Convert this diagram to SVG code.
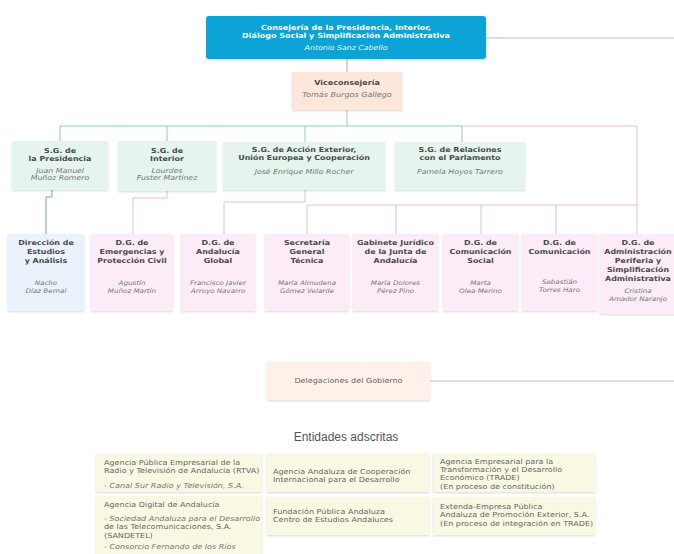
<svg xmlns="http://www.w3.org/2000/svg" width="674" height="554" viewBox="0 0 674 554">
<defs>
<filter id="sh" x="-10%" y="-10%" width="120%" height="130%"><feDropShadow dx="0" dy="1" stdDeviation="1" flood-color="#000" flood-opacity="0.15"/></filter>
<style>
text{font-family:"DejaVu Sans","Liberation Sans",sans-serif;transform-box:fill-box;transform-origin:center;transform:scaleX(1.15);}
.t{font-size:6.9px;font-weight:bold;fill:#4a4a4a;text-anchor:middle;}
.n{font-size:6.2px;font-style:italic;fill:#777;text-anchor:middle;}
.sgn{font-size:6.8px;}
.tw{font-size:7px;font-weight:bold;fill:#fff;text-anchor:middle;}
.nw{font-size:6.8px;font-style:italic;fill:#e6f6fc;text-anchor:middle;}
.e{font-size:7px;fill:#666;transform-origin:left center;}
.ei{font-size:7px;fill:#777;font-style:italic;transform-origin:left center;}
.sg{fill:#e5f5ee;filter:url(#sh);}
.pk{fill:#fcecf8;filter:url(#sh);}
.bl{fill:#eaf3fb;filter:url(#sh);}
.ent{fill:#f8f8e3;filter:url(#sh);}
.c{fill:none;stroke-width:1;}
.teal{stroke:#8fcac4;}
.pink{stroke:#e6bcdc;}
.blue{stroke:#6ea7c6;}
.gray{stroke:#bdbdbd;}
</style>
</defs>
<rect width="674" height="554" fill="#ffffff"/>
<g id="connectors">
<path class="c gray" d="M486,38 H674"/>
<path class="c" stroke="#b8a898" d="M347,59 V72"/>
<path class="c teal" d="M347,110 V126"/>
<path class="c teal" d="M60,141 V126 H462 V142"/>
<path class="c teal" d="M167,126 V141"/>
<path class="c teal" d="M305,126 V142"/>
<path class="c pink" d="M462,126 H637 V234"/>
<path class="c blue" d="M52,190 V197 H46 V234"/>
<path class="c pink" d="M167,191 V198 H133 V234"/>
<path class="c pink" d="M305,190 V202 H224 V234"/>
<path class="c pink" d="M307,234 V205 H637"/>
<path class="c pink" d="M396,205 V234"/>
<path class="c pink" d="M481,205 V234"/>
<path class="c pink" d="M556,205 V234"/>
<path class="c gray" d="M430,381 H674"/>
</g>
<g id="consejeria">
<rect x="206" y="16" width="280" height="43" rx="3" fill="#11a3d6" filter="url(#sh)"/>
<text class="tw" x="346" y="30">Consejería de la Presidencia, Interior,</text>
<text class="tw" x="346" y="38">Diálogo Social y Simplificación Administrativa</text>
<text class="nw" x="346" y="50">Antonio Sanz Cabello</text>
</g>
<g id="viceconsejeria">
<rect x="292" y="72" width="110" height="38" fill="#fde6da" filter="url(#sh)"/>
<text class="t" x="347" y="85" style="font-size:7px">Viceconsejería</text>
<text class="n" x="347" y="97" style="font-size:7px">Tomás Burgos Gallego</text>
</g>
<g id="sg-presidencia">
<rect class="sg" x="12" y="141" width="96" height="49"/>
<text class="t" x="60" y="153">S.G. de</text>
<text class="t" x="60" y="161">la Presidencia</text>
<text class="n sgn" x="60" y="173">Juan Manuel</text>
<text class="n sgn" x="60" y="180.5">Muñoz Romero</text>
</g>
<g id="sg-interior">
<rect class="sg" x="118" y="141" width="98" height="50"/>
<text class="t" x="167" y="153">S.G. de</text>
<text class="t" x="167" y="161">Interior</text>
<text class="n sgn" x="167" y="173">Lourdes</text>
<text class="n sgn" x="167" y="180.5">Fuster Martínez</text>
</g>
<g id="sg-accion-exterior">
<rect class="sg" x="223" y="142" width="162" height="48"/>
<text class="t" x="304" y="152.5">S.G. de Acción Exterior,</text>
<text class="t" x="304" y="160.5">Unión Europea y Cooperación</text>
<text class="n sgn" x="304" y="174">José Enrique Millo Rocher</text>
</g>
<g id="sg-relaciones">
<rect class="sg" x="395" y="142" width="130" height="48"/>
<text class="t" x="460" y="152.5">S.G. de Relaciones</text>
<text class="t" x="460" y="160.5">con el Parlamento</text>
<text class="n sgn" x="460" y="174">Pamela Hoyos Tarrero</text>
</g>
<g id="direccion-estudios">
<rect class="bl" x="8" y="234" width="76" height="77"/>
<text class="t" x="46" y="245.5">Dirección de</text>
<text class="t" x="46" y="254.5">Estudios</text>
<text class="t" x="46" y="263.5">y Análisis</text>
<text class="n" x="46" y="285.5">Nacho</text>
<text class="n" x="46" y="293.5">Díaz Bernal</text>
</g>
<g id="dg-emergencias">
<rect class="pk" x="91" y="234" width="82" height="77"/>
<text class="t" x="132" y="245.5">D.G. de</text>
<text class="t" x="132" y="254.5">Emergencias y</text>
<text class="t" x="132" y="263.5">Protección Civil</text>
<text class="n" x="132" y="285.5">Agustín</text>
<text class="n" x="132" y="293.5">Muñoz Martín</text>
</g>
<g id="dg-andalucia-global">
<rect class="pk" x="181" y="234" width="74" height="77"/>
<text class="t" x="218" y="245.5">D.G. de</text>
<text class="t" x="218" y="254.5">Andalucía</text>
<text class="t" x="218" y="263.5">Global</text>
<text class="n" x="218" y="285.5">Francisco Javier</text>
<text class="n" x="218" y="293.5">Arroyo Navarro</text>
</g>
<g id="secretaria-general-tecnica">
<rect class="pk" x="265" y="234" width="84" height="77"/>
<text class="t" x="307" y="245.5">Secretaría</text>
<text class="t" x="307" y="254.5">General</text>
<text class="t" x="307" y="263.5">Técnica</text>
<text class="n" x="307" y="285.5">María Almudena</text>
<text class="n" x="307" y="293.5">Gómez Velarde</text>
</g>
<g id="gabinete-juridico">
<rect class="pk" x="353" y="234" width="85" height="77"/>
<text class="t" x="395.5" y="245.5">Gabinete Jurídico</text>
<text class="t" x="395.5" y="254.5">de la Junta de</text>
<text class="t" x="395.5" y="263.5">Andalucía</text>
<text class="n" x="395.5" y="285.5">María Dolores</text>
<text class="n" x="395.5" y="293.5">Pérez Pino</text>
</g>
<g id="dg-comunicacion-social">
<rect class="pk" x="443" y="234" width="75" height="77"/>
<text class="t" x="480.5" y="245.5">D.G. de</text>
<text class="t" x="480.5" y="254.5">Comunicación</text>
<text class="t" x="480.5" y="263.5">Social</text>
<text class="n" x="480.5" y="285.5">Marta</text>
<text class="n" x="480.5" y="293.5">Olea Merino</text>
</g>
<g id="dg-comunicacion">
<rect class="pk" x="522" y="234" width="75" height="77"/>
<text class="t" x="559.5" y="245.5">D.G. de</text>
<text class="t" x="559.5" y="254.5">Comunicación</text>
<text class="n" x="559.5" y="284.5">Sebastián</text>
<text class="n" x="559.5" y="292.5">Torres Haro</text>
</g>
<g id="dg-administracion-periferia">
<rect class="pk" x="600" y="234" width="80" height="80"/>
<text class="t" x="638" y="245.5">D.G. de</text>
<text class="t" x="638" y="254.5">Administración</text>
<text class="t" x="638" y="263.5">Periferia y</text>
<text class="t" x="638" y="272.5">Simplificación</text>
<text class="t" x="638" y="281.5">Administrativa</text>
<text class="n" x="638" y="293">Cristina</text>
<text class="n" x="638" y="301.5">Amador Naranjo</text>
</g>
<g id="delegaciones">
<rect x="267" y="362" width="163" height="38" fill="#fdf1ea" filter="url(#sh)"/>
<text x="348.5" y="383" style="font-size:7px;fill:#666;text-anchor:middle;">Delegaciones del Gobierno</text>
</g>
<g id="entidades-titulo">
<text x="346" y="441" style="font-family:'Liberation Sans',Arial,sans-serif;font-size:12px;fill:#555;text-anchor:middle;transform:none;">Entidades adscritas</text>
</g>
<g id="ent-rtva">
<rect class="ent" x="96" y="454" width="166" height="38"/>
<text class="e" x="104" y="465">Agencia Pública Empresarial de la</text>
<text class="e" x="104" y="473.5">Radio y Televisión de Andalucía (RTVA)</text>
<text class="ei" x="104" y="488">- Canal Sur Radio y Televisión, S.A.</text>
</g>
<g id="ent-agencia-digital">
<rect class="ent" x="96" y="496" width="166" height="60"/>
<text class="e" x="104" y="507.5">Agencia Digital de Andalucía</text>
<text class="ei" x="104" y="521">- Sociedad Andaluza para el Desarrollo</text>
<text class="e" x="104" y="529.5">de las Telecomunicaciones, S.A.</text>
<text class="e" x="104" y="538">(SANDETEL)</text>
<text class="ei" x="104" y="549.5">- Consorcio Fernando de los Ríos</text>
</g>
<g id="ent-cooperacion">
<rect class="ent" x="267" y="453" width="162" height="39"/>
<text class="e" x="273" y="474">Agencia Andaluza de Cooperación</text>
<text class="e" x="273" y="482">Internacional para el Desarrollo</text>
</g>
<g id="ent-centra">
<rect class="ent" x="267" y="497" width="162" height="38"/>
<text class="e" x="273" y="514.5">Fundación Pública Andaluza</text>
<text class="e" x="273" y="522.5">Centro de Estudios Andaluces</text>
</g>
<g id="ent-trade">
<rect class="ent" x="433" y="453" width="162" height="39"/>
<text class="e" x="440" y="464">Agencia Empresarial para la</text>
<text class="e" x="440" y="472.5">Transformación y el Desarrollo</text>
<text class="e" x="440" y="480.5">Económico (TRADE)</text>
<text class="e" x="440" y="489">(En proceso de constitución)</text>
</g>
<g id="ent-extenda">
<rect class="ent" x="433" y="497" width="162" height="38"/>
<text class="e" x="440" y="509">Extenda-Empresa Pública</text>
<text class="e" x="440" y="517.5">Andaluza de Promoción Exterior, S.A.</text>
<text class="e" x="440" y="526">(En proceso de integración en TRADE)</text>
</g>
</svg>
